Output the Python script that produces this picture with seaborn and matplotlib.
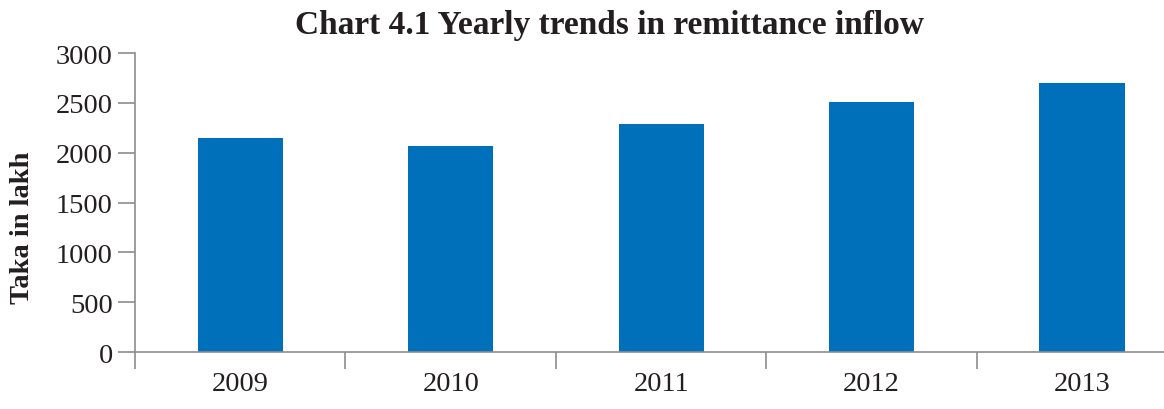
import matplotlib
matplotlib.use("Agg")
import matplotlib.pyplot as plt
import seaborn as sns
import pandas as pd
import numpy as np

# data
years = ["2009", "2010", "2011", "2012", "2013"]
remittance = [2145, 2065, 2285, 2505, 2705]

df = pd.DataFrame({"Year": years, "Taka in lakh": remittance})

sns.set_style("white")
plt.rcParams["font.family"] = ["Liberation Serif", "DejaVu Serif"]
plt.rcParams["text.color"] = "#231f20"
plt.rcParams["xtick.labelcolor"] = "#231f20"
plt.rcParams["ytick.labelcolor"] = "#231f20"
plt.rcParams["axes.labelcolor"] = "#231f20"

fig = plt.figure(figsize=(11.64, 4.10), dpi=100)
# the original plot area runs slightly past the right edge of the image
ax = fig.add_axes([0.116, 0.139, 0.904, 0.729])

sns.barplot(data=df, x="Year", y="Taka in lakh", color="#0070BA",
            width=0.405, saturation=1, linewidth=0, ax=ax)

ax.set_xlim(-0.5, 4.5)
ax.set_ylim(0, 3000)
ax.set_yticks(np.arange(0, 3001, 500))

# spines: only left and bottom, grey
for s in ["top", "right"]:
    ax.spines[s].set_visible(False)
for s in ["left", "bottom"]:
    ax.spines[s].set_color("#8c8c8c")
    ax.spines[s].set_linewidth(1.2)

# y ticks outward, x ticks at category boundaries
ax.tick_params(axis="y", direction="out", length=12, width=1.2, color="#8c8c8c",
               labelsize=20.5, pad=4, left=True)
ax.tick_params(axis="x", which="major", length=0, labelsize=20.5, pad=14)
ax.set_xticks(np.arange(-0.5, 5.0, 1.0), minor=True)
ax.tick_params(axis="x", which="minor", direction="out", length=12, width=1.2,
               color="#8c8c8c", bottom=True)

ax.set_xlabel("")
ax.set_ylabel("Taka in lakh", fontsize=20.5, fontweight="bold")
ax.yaxis.set_label_coords(-0.095, 0.42)
fig.suptitle("Chart 4.1 Yearly trends in remittance inflow", fontsize=24,
             fontweight="bold", x=0.524, y=0.975)

fig.savefig("out.png", dpi=100)
